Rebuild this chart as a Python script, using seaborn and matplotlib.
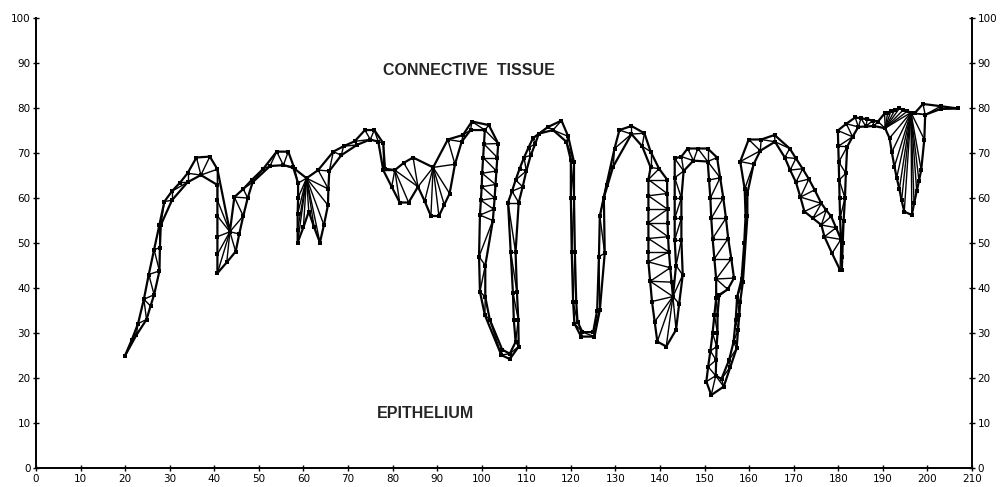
import numpy as np
import matplotlib
matplotlib.use("Agg")
import matplotlib.pyplot as plt
import seaborn as sns
from matplotlib.collections import LineCollection

# ---- data: the two boundaries of the ribbon
# connective-tissue side (upper_*) and epithelium side (lower_*)
upper_x = [20.0, 21.5, 22.9, 24.2, 25.3, 26.5, 27.7, 28.8, 30.5, 32.3, 34.0, 36.0, 39.0, 40.7,
           43.5, 44.5, 46.5, 48.4, 51.0, 54.0, 56.6, 58.0, 60.7, 63.3, 66.7, 69.0, 71.5, 73.8, 75.9, 77.9,
           78.3, 80.5, 82.5, 84.6, 89.1, 92.4, 95.8, 97.8, 101.6,
           103.7, 103.5, 103.3, 103.1, 102.9, 102.7, 102.5, 100.8, 100.8, 101.8, 104.6, 106.3, 107.6,
           107.2, 107.0, 106.5, 105.9, 106.8, 107.6, 108.5, 109.5, 110.5, 111.5,
           114.9, 117.9, 119.4, 120.7, 120.7, 120.9, 121.2, 121.5, 122.6, 125.0, 125.9, 126.3, 126.5,
           128.0, 129.8, 130.9, 133.6, 136.5, 137.9, 139.8,
           141.6, 141.6, 141.7, 141.7, 141.8, 142.0, 142.3, 142.6, 142.9, 143.6, 143.3, 143.3, 143.3,
           143.3, 143.3, 144.8, 146.2, 148.5, 150.7,
           152.8, 153.5, 154.2, 154.8, 155.3, 156.0, 156.6, 155.2, 153.3, 152.9, 152.9, 152.7, 152.6,
           152.5, 153.8, 155.5, 156.5, 157.0, 157.3, 158.3, 158.9, 159.2, 159.0, 158.0,
           159.9, 162.7, 165.7, 169.1, 170.5, 172.0, 173.4, 174.7, 176.2, 177.3, 178.4, 179.5, 180.6,
           180.4, 180.3, 180.2, 180.1, 180.0, 179.9,
           181.8, 183.8, 185.1, 186.5, 187.7, 188.9, 190.4, 191.1, 191.8, 192.7, 193.7, 194.6, 195.5,
           196.3, 197.1, 199.0, 203.0, 206.8]
upper_y = [25.0, 28.5, 32.1, 37.5, 43.0, 48.5, 54.1, 59.2, 61.5, 63.4, 65.5, 69.0, 69.2, 66.4,
           52.5, 60.2, 62.0, 64.0, 66.5, 70.3, 70.3, 66.5, 64.4, 66.2, 70.3, 71.5, 72.6, 75.1, 75.1, 72.2,
           66.5, 66.2, 67.8, 69.0, 66.8, 73.0, 74.0, 77.0, 76.2,
           72.1, 69.0, 66.0, 63.0, 60.0, 57.5, 55.0, 45.0, 38.0, 33.0, 26.3, 25.4, 28.0,
           33.0, 39.0, 48.0, 59.0, 61.5, 64.0, 66.5, 69.0, 71.2, 73.3,
           75.8, 77.2, 73.7, 68.0, 60.1, 48.0, 37.0, 32.5, 30.2, 30.2, 35.0, 47.0, 56.0,
           63.0, 71.0, 75.1, 76.0, 74.4, 70.3, 66.5,
           64.1, 61.0, 57.5, 54.5, 51.4, 48.0, 44.5, 41.3, 38.1, 45.0, 50.7, 55.5, 60.0,
           64.5, 68.8, 69.2, 71.0, 71.0, 71.0,
           69.0, 64.5, 60.0, 55.5, 51.0, 46.5, 42.2, 39.7, 38.5, 34.0, 30.0, 27.0, 24.0,
           20.5, 19.8, 24.0, 28.0, 33.0, 38.0, 42.0, 50.0, 56.0, 62.0, 68.1,
           73.0, 73.0, 74.0, 71.0, 68.8, 66.5, 64.2, 61.8, 58.8, 57.3, 55.9, 53.4, 50.8,
           55.5, 60.0, 64.0, 68.0, 71.5, 75.0,
           76.5, 77.9, 77.7, 77.5, 77.2, 77.0, 78.8, 79.0, 79.3, 79.6, 79.9, 79.6, 79.3,
           79.0, 78.8, 80.9, 80.4, 79.9]

lower_x = [20.0, 22.5, 24.8, 25.7, 26.5, 27.7, 27.8, 28.0, 30.5, 34.0, 37.0,
           40.7, 40.7, 40.7, 40.7, 40.7, 40.7, 42.8, 44.8, 45.6, 46.5, 47.5, 48.6, 52.5, 55.5, 57.7,
           58.8, 58.8, 58.7, 58.7, 58.7, 60.0, 61.2, 62.4, 63.7, 64.6, 65.5, 65.6, 65.8, 68.5, 72.0,
           75.0, 76.8, 77.9,
           79.8, 81.6, 83.6, 85.7, 87.2, 88.6, 90.4, 91.6, 92.8, 94.0, 95.5, 97.5, 100.7,
           100.5, 100.3, 100.1, 100.0, 99.8, 99.6, 99.4, 99.6, 100.7, 104.4, 106.3, 108.3, 108.2,
           107.9, 107.6, 108.3, 109.2, 110.0, 111.0, 112.0, 112.8,
           116.0, 119.0, 120.0, 120.0, 120.2, 120.5, 120.8, 122.3, 125.3, 126.5, 127.6, 127.4, 129.5,
           133.6, 136.0, 137.9,
           137.4, 137.4, 137.4, 137.4, 137.4, 137.4, 137.4, 137.8, 138.2, 138.8, 139.4, 141.4, 143.6,
           144.3, 145.1, 144.8, 144.8, 144.8, 145.3, 147.5, 150.7,
           151.0, 151.3, 151.5, 151.8, 152.2, 152.6, 152.6, 152.2, 151.8, 151.3, 150.8, 150.4, 151.5,
           154.3, 155.8, 157.2, 157.5, 157.8, 158.0, 158.6, 159.6, 159.6, 161.0, 162.5,
           165.8, 168.0, 169.2, 170.5, 171.5, 172.4, 174.3, 176.2, 176.9, 178.6, 180.4, 180.8, 180.9,
           181.0, 181.2, 181.5, 181.7, 182.0,
           183.2, 184.5, 186.2, 188.0, 190.5, 191.5, 192.0, 192.6, 193.1, 193.7, 194.2, 194.8, 196.5,
           197.0, 197.6, 198.1, 198.6, 199.3, 199.5, 203.0, 206.8]
lower_y = [25.0, 29.5, 33.0, 36.0, 38.5, 43.8, 49.0, 54.0, 59.5, 63.5, 65.1,
           62.9, 59.5, 56.0, 51.4, 47.5, 43.3, 45.7, 48.1, 52.0, 56.0, 60.0, 63.5, 67.1, 67.3, 66.8,
           63.3, 60.0, 56.5, 53.0, 50.1, 53.5, 57.0, 53.5, 50.1, 54.0, 58.4, 62.0, 66.0, 69.5, 71.8,
           73.0, 72.5, 66.2,
           62.5, 59.0, 59.0, 62.5, 59.3, 56.0, 56.0, 58.5, 61.0, 67.5, 72.5, 75.1, 75.1,
           72.0, 69.0, 65.5, 62.5, 59.5, 56.2, 47.0, 39.2, 34.0, 25.1, 24.2, 27.0, 33.0,
           39.2, 48.0, 59.0, 62.5, 66.0, 69.5, 72.0, 74.3,
           75.1, 72.5, 68.4, 60.1, 48.0, 37.0, 32.1, 29.2, 29.2, 35.1, 47.7, 60.1, 67.0,
           74.2, 71.5, 66.8,
           64.1, 60.5, 57.5, 54.5, 51.0, 48.0, 45.8, 41.5, 37.0, 32.5, 28.1, 27.0, 30.7,
           36.5, 42.9, 50.7, 55.5, 60.0, 66.0, 68.3, 68.1,
           64.0, 60.0, 55.5, 51.0, 46.5, 42.0, 37.7, 34.0, 30.0, 26.0, 22.5, 19.2, 16.2,
           18.1, 22.5, 26.6, 30.7, 34.0, 37.0, 41.4, 55.9, 61.0, 67.5, 70.5,
           72.5, 69.0, 66.2, 63.5, 60.2, 57.0, 55.5, 54.0, 51.4, 47.7, 44.0, 44.0, 47.0,
           50.0, 55.0, 60.0, 65.5, 71.4,
           73.6, 75.8, 75.9, 76.0, 75.5, 73.3, 70.2, 67.0, 64.5, 62.0, 59.5, 57.0, 56.2,
           58.8, 61.5, 63.8, 66.2, 73.0, 78.5, 79.8, 79.9]

x_ticks = list(range(0, 211, 10))
y_ticks = list(range(0, 101, 10))
label_top = "CONNECTIVE  TISSUE"
label_bottom = "EPITHELIUM"


def strip_segments(ax_, ay_, bx_, by_):
    """Optimal strip triangulation between two polylines (minimum total diagonal length)."""
    A = np.column_stack([ax_, ay_])
    B = np.column_stack([bx_, by_])
    n, m = len(A), len(B)
    D = np.hypot(A[:, None, 0] - B[None, :, 0], A[:, None, 1] - B[None, :, 1])
    cost = np.full((n, m), np.inf)
    back = np.zeros((n, m), dtype=int)
    cost[0, 0] = D[0, 0]
    for i in range(n):
        for j in range(m):
            if i == 0 and j == 0:
                continue
            best = np.inf
            if i > 0 and cost[i - 1, j] < best:
                best = cost[i - 1, j]
                back[i, j] = 0
            if j > 0 and cost[i, j - 1] < best:
                best = cost[i, j - 1]
                back[i, j] = 1
            cost[i, j] = best + D[i, j]
    path = []
    i, j = n - 1, m - 1
    while True:
        path.append((i, j))
        if i == 0 and j == 0:
            break
        if back[i, j] == 0:
            i -= 1
        else:
            j -= 1
    return [(A[i], B[j]) for i, j in path[::-1]]


sns.set_style("white")
plt.rcParams["font.family"] = ["DejaVu Sans"]

fig = plt.figure(figsize=(10.04, 4.87), dpi=100)
ax = fig.add_axes([36 / 1004, 19 / 487, (972 - 36) / 1004, (468 - 18) / 487])

segs = strip_segments(upper_x, upper_y, lower_x, lower_y)
ax.add_collection(LineCollection(segs, colors="black", linewidths=1.0, zorder=2))

sns.lineplot(x=upper_x, y=upper_y, sort=False, estimator=None, color="black",
             linewidth=1.6, ax=ax, zorder=3)
sns.lineplot(x=lower_x, y=lower_y, sort=False, estimator=None, color="black",
             linewidth=1.6, ax=ax, zorder=3)
sns.scatterplot(x=upper_x + lower_x, y=upper_y + lower_y, color="black", s=8,
                marker="s", linewidth=0, ax=ax, zorder=4)

ax.set_xlim(0, 210)
ax.set_ylim(0, 100)
ax.set_xticks(x_ticks)
ax.set_yticks(y_ticks)
ax.set_xticklabels([str(t) for t in x_ticks])
ax.set_yticklabels([str(t) for t in y_ticks])
ax.spines["top"].set_visible(False)
for s in ["left", "right", "bottom"]:
    ax.spines[s].set_linewidth(1.4)
    ax.spines[s].set_color("black")
ax.tick_params(axis="both", direction="inout", length=4, width=1, labelsize=7.5,
               colors="black", pad=2)
ax.tick_params(axis="y", left=True, right=True, labelleft=True, labelright=True)
ax.tick_params(axis="x", bottom=True)

ax.text(97.2, 88.4, label_top, ha="center", va="center", fontsize=11.5,
        fontweight="bold", family="Liberation Sans")
ax.text(87.4, 12.1, label_bottom, ha="center", va="center", fontsize=11.5,
        fontweight="bold", family="Liberation Sans")

fig.savefig("out.png", dpi=100)
